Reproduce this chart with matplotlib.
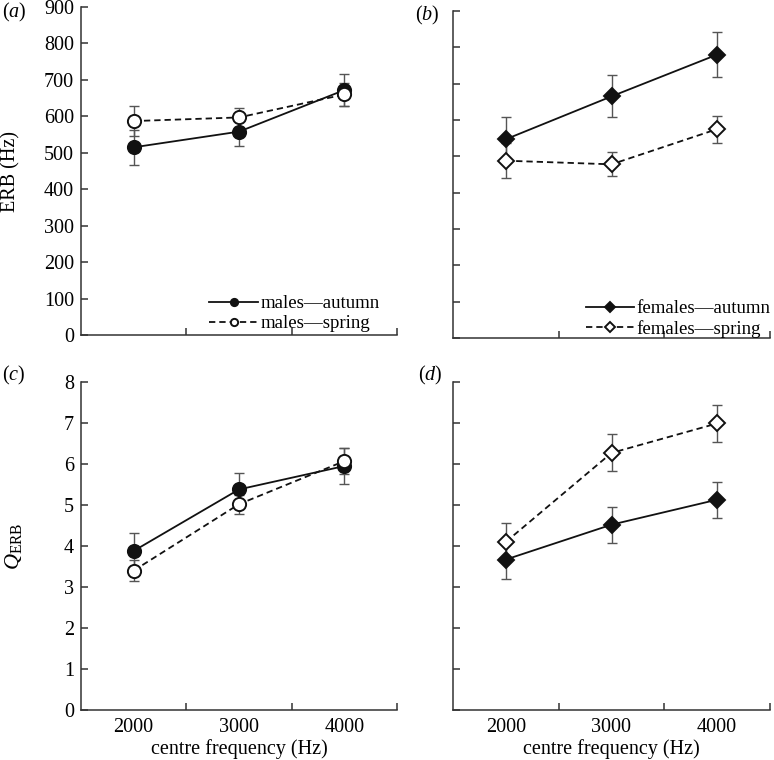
import numpy as np
import matplotlib
matplotlib.use("Agg")
from matplotlib import pyplot

pyplot.rcParams["font.family"] = ["Liberation Serif", "DejaVu Serif"]
pyplot.rcParams["mathtext.fontset"] = "custom"
pyplot.rcParams["mathtext.rm"] = "Liberation Serif"
pyplot.rcParams["mathtext.it"] = "Liberation Serif:italic"
pyplot.rcParams["font.size"] = 14.5

# centre frequencies (Hz)
freqs = [2000, 3000, 4000]

# ERB (Hz), males
erb_m_autumn = [515, 558, 672]
erb_m_autumn_err = [48, 40, 45]
erb_m_spring = [587, 597, 660]
erb_m_spring_err = [40, 25, 32]

# ERB (Hz), females
erb_f_autumn = [547, 665, 780]
erb_f_autumn_err = [60, 58, 62]
erb_f_spring = [488, 478, 575]
erb_f_spring_err = [48, 33, 37]

# Q_ERB, males
q_m_autumn = [3.88, 5.38, 5.95]
q_m_autumn_err = [0.43, 0.40, 0.43]
q_m_spring = [3.40, 5.02, 6.07]
q_m_spring_err = [0.25, 0.23, 0.32]

# Q_ERB, females
q_f_autumn = [3.67, 4.52, 5.13]
q_f_autumn_err = [0.47, 0.44, 0.44]
q_f_spring = [4.10, 6.27, 6.99]
q_f_spring_err = [0.46, 0.45, 0.45]

W, H = 774, 760
fig = pyplot.figure(figsize=(W / 100, H / 100), dpi=100)


def px_axes(left, top, right, bottom):
    return fig.add_axes([left / W, 1 - bottom / H, (right - left) / W, (bottom - top) / H])


ax_a = px_axes(81, 7, 397, 335)
ax_b = px_axes(453, 11, 770, 338)
ax_c = px_axes(81, 382, 397, 710)
ax_d = px_axes(453, 382, 770, 710)

spine_col = "#333333"
err_col = "#555555"


def style(ax, ymax, ystep, show_x, show_y):
    for s in ["top", "right"]:
        ax.spines[s].set_visible(False)
    for s in ["left", "bottom"]:
        ax.spines[s].set_color(spine_col)
        ax.spines[s].set_linewidth(1.1)
    ax.set_xlim(1500, 4500)
    ax.set_ylim(0, ymax)
    ax.set_yticks(np.arange(0, ymax + ystep / 2, ystep))
    ax.set_xticks([2500, 3500, 4500])
    ax.set_xticklabels([])
    ax.set_xticks(freqs, minor=True)
    if show_x:
        ax.set_xticklabels([str(f) for f in freqs], minor=True)
    ax.tick_params(axis="both", which="major", direction="in", length=5,
                   width=1.1, color=spine_col, pad=5)
    ax.tick_params(axis="x", which="minor", length=0, pad=6)
    if not show_y:
        ax.set_yticklabels([])


def draw(ax, y, err, marker, filled, dashed, ms, label):
    ax.errorbar(freqs, y, yerr=err, fmt="none", ecolor=err_col, elinewidth=1.0,
                capsize=3.3, capthick=1.0, zorder=1)
    ax.plot(freqs, y, color="#111111", lw=1.3,
            linestyle=(0, (3.5, 2.2)) if dashed else "-",
            marker=marker, ms=ms, mew=1.4, mec="#111111",
            mfc="#111111" if filled else "white", zorder=3, label=label)


draw(ax_a, erb_m_autumn, erb_m_autumn_err, "o", True, False, 9.5, "males\u2014autumn")
draw(ax_a, erb_m_spring, erb_m_spring_err, "o", False, True, 9.5, "males\u2014spring")
draw(ax_b, erb_f_autumn, erb_f_autumn_err, "D", True, False, 7.8, "females\u2014autumn")
draw(ax_b, erb_f_spring, erb_f_spring_err, "D", False, True, 7.8, "females\u2014spring")
draw(ax_c, q_m_autumn, q_m_autumn_err, "o", True, False, 9.5, None)
draw(ax_c, q_m_spring, q_m_spring_err, "o", False, True, 9.5, None)
draw(ax_d, q_f_autumn, q_f_autumn_err, "D", True, False, 7.8, None)
draw(ax_d, q_f_spring, q_f_spring_err, "D", False, True, 7.8, None)

style(ax_a, 900, 100, False, True)
style(ax_b, 900, 100, False, False)
style(ax_c, 8, 1, True, True)
style(ax_d, 8, 1, True, False)

ax_a.set_ylabel("ERB (Hz)")
ax_a.yaxis.set_label_coords(-0.19, 0.5)
ax_c.set_ylabel(r"$Q_{\mathrm{ERB}}$", fontsize=16)
ax_c.yaxis.set_label_coords(-0.18, 0.5)
for ax in (ax_c, ax_d):
    ax.set_xlabel("centre frequency (Hz)")
    ax.xaxis.set_label_coords(0.5, -0.088)
    ax.xaxis.label.set_va("top")

ax_a.legend(loc="lower left", bbox_to_anchor=(0.405, 0.008), frameon=False,
            borderaxespad=0, borderpad=0, handlelength=2.6, handletextpad=0.12,
            labelspacing=0.15, markerscale=0.55, fontsize=13.6)
ax_b.legend(loc="lower right", bbox_to_anchor=(1.0, 0.0), frameon=False,
            borderaxespad=0, borderpad=0, handlelength=2.55, handletextpad=0.12,
            labelspacing=0.15, markerscale=0.6, fontsize=13.6)

fig.text(2 / W, 1 - 12 / H, r"($\mathit{a}$)", va="center", ha="left")
fig.text(415 / W, 1 - 15 / H, r"($\mathit{b}$)", va="center", ha="left")
fig.text(2 / W, 1 - 375 / H, r"($\mathit{c}$)", va="center", ha="left")
fig.text(418 / W, 1 - 375 / H, r"($\mathit{d}$)", va="center", ha="left")

pyplot.savefig("out.png", dpi=100)
